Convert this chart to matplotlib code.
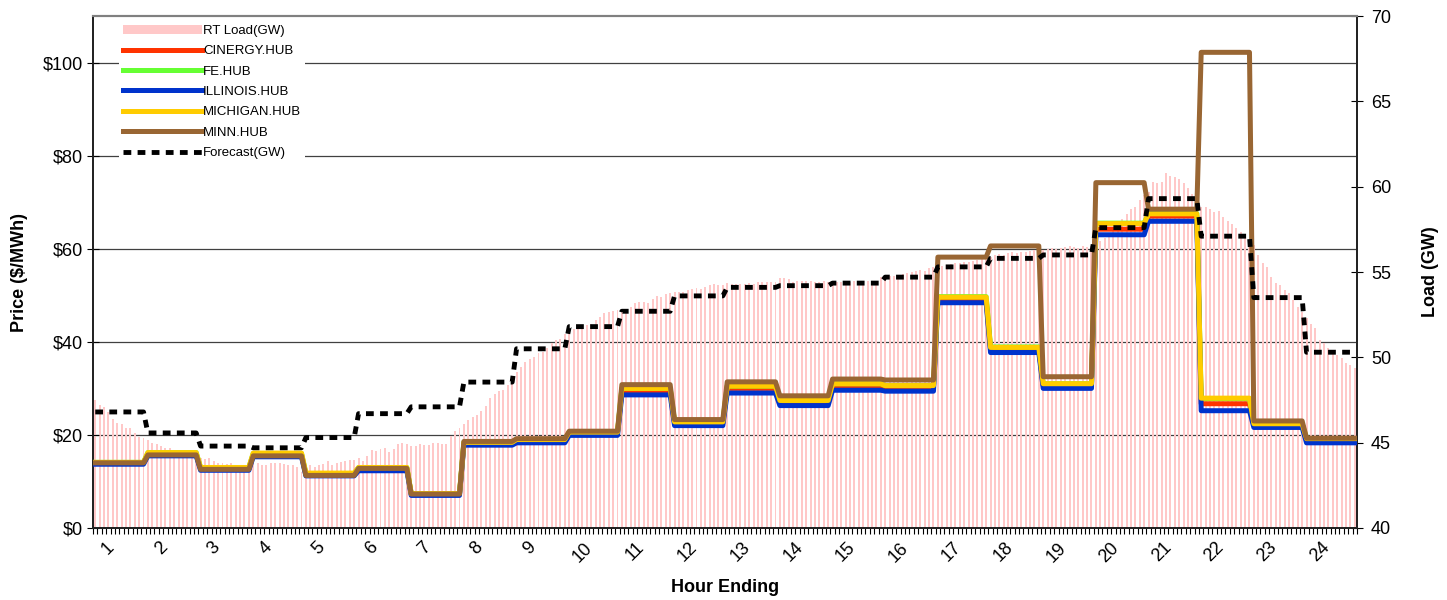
import numpy as np
import matplotlib.pyplot as plt
from matplotlib.transforms import blended_transform_factory
from matplotlib.ticker import FuncFormatter

plt.rcParams['font.family'] = ['Liberation Sans', 'DejaVu Sans']

# 5-minute real-time load (GW), 12 intervals per hour
load_gw = [
    47.5, 47.2, 47.07, 46.8, 46.37, 46.13, 46.1, 45.84, 45.88, 45.59, 45.35, 45.25,
    45.16, 45.0, 44.92, 44.8, 44.67, 44.67, 44.57, 44.51, 44.5, 44.45, 44.4, 44.4,
    44.08, 44.02, 44.12, 43.93, 43.83, 43.79, 43.75, 43.79, 43.69, 43.63, 43.6, 43.5,
    43.83, 43.79, 43.69, 43.69, 43.79, 43.83, 43.79, 43.75, 43.69, 43.69, 43.56, 43.3,
    43.35, 43.7, 43.6, 43.7, 43.75, 43.9, 43.7, 43.8, 43.85, 43.9, 44.0, 44.0,
    44.1, 43.9, 44.2, 44.57, 44.5, 44.6, 44.7, 44.47, 44.6, 44.9, 45.0, 44.9,
    44.8, 44.8, 44.9, 44.85, 44.85, 45.0, 45.0, 44.95, 44.9, 45.4, 45.7, 45.84,
    46.1, 46.33, 46.5, 46.6, 46.87, 47.15, 47.6, 47.85, 48.0, 48.1, 48.4, 48.48,
    49.16, 49.45, 49.74, 49.88, 50.04, 50.23, 50.33, 50.53, 50.86, 51.0, 51.1, 51.37,
    51.5, 51.64, 51.8, 51.7, 51.9, 51.95, 52.19, 52.38, 52.58, 52.64, 52.73, 52.8,
    52.67, 52.77, 52.97, 53.17, 53.22, 53.22, 53.17, 53.4, 53.6, 53.55, 53.7, 53.75,
    53.85, 53.8, 53.85, 53.95, 53.98, 54.04, 53.98, 54.14, 54.24, 54.3, 54.24, 54.24,
    54.34, 54.3, 54.3, 54.3, 54.3, 54.34, 54.3, 54.43, 54.4, 54.42, 54.43, 54.43,
    54.63, 54.63, 54.57, 54.43, 54.47, 54.5, 54.5, 54.47, 54.43, 54.42, 54.47, 54.4,
    54.4, 54.43, 54.42, 54.43, 54.43, 54.47, 54.28, 54.42, 54.47, 54.5, 54.43, 54.69,
    54.69, 54.76, 54.76, 54.82, 54.88, 54.96, 55.0, 55.08, 55.1, 55.08, 55.21, 55.3,
    55.3, 55.35, 55.4, 55.45, 55.5, 55.55, 55.6, 55.6, 55.65, 55.7, 55.75, 55.8,
    55.9, 56.0, 56.05, 56.0, 56.1, 56.15, 56.1, 56.2, 56.2, 56.25, 56.3, 56.3,
    56.3, 56.35, 56.4, 56.35, 56.4, 56.45, 56.5, 56.45, 56.4, 56.5, 56.45, 56.5,
    56.6, 56.8, 57.0, 57.3, 57.6, 57.9, 58.1, 58.4, 58.7, 58.8, 59.2, 59.5,
    59.7, 60.25, 60.23, 60.3, 60.78, 60.62, 60.58, 60.43, 60.2, 59.9, 59.6, 59.0,
    58.8, 58.8, 58.67, 58.53, 58.6, 58.2, 57.99, 57.8, 57.56, 57.36, 57.17, 56.87,
    56.6, 56.0, 55.55, 55.27, 54.73, 54.37, 54.24, 53.95, 53.75, 53.36, 52.97, 52.67,
    52.29, 51.95, 51.7, 51.0, 50.82, 50.53, 50.33, 50.14, 49.94, 49.65, 49.55, 49.36,
]

# hourly values
hours = list(range(1, 25))
forecast_gw = [46.8, 45.57, 44.8, 44.7, 45.3, 46.7, 47.1, 48.55, 50.5, 51.8, 52.7, 53.6,
               54.1, 54.2, 54.35, 54.7, 55.3, 55.8, 56.0, 57.6, 59.3, 57.1, 53.5, 50.3]
cinergy = [14.0, 15.9, 12.8, 15.8, 11.5, 12.8, 7.3, 18.2, 18.8, 20.4, 29.5, 22.5,
           30.0, 27.0, 30.6, 30.2, 49.0, 38.4, 30.6, 64.2, 67.0, 26.7, 22.1, 18.9]
fe = [14.1, 16.2, 13.0, 16.0, 11.7, 13.0, 7.4, 18.4, 19.0, 20.6, 30.0, 22.8,
      30.5, 27.4, 31.0, 30.6, 49.7, 38.9, 31.0, 65.5, 67.6, 27.8, 22.4, 19.2]
illinois = [13.7, 15.5, 12.4, 15.3, 11.2, 12.3, 7.0, 17.8, 18.3, 19.9, 28.6, 22.0,
            29.0, 26.3, 29.6, 29.4, 48.4, 37.7, 30.0, 63.0, 65.9, 25.2, 21.6, 18.3]
michigan = [14.1, 16.2, 13.0, 16.1, 11.8, 13.0, 7.4, 18.4, 19.0, 20.6, 30.0, 22.8,
            30.5, 27.4, 31.0, 30.6, 49.6, 38.8, 31.0, 65.4, 67.5, 27.9, 22.4, 19.2]
minn = [14.0, 15.7, 12.6, 15.5, 11.3, 12.8, 7.3, 18.6, 19.2, 20.8, 30.8, 23.3,
        31.4, 28.4, 32.0, 31.8, 58.2, 60.6, 32.5, 74.2, 68.5, 102.2, 23.0, 19.3]

steps = 12
x = np.arange(len(load_gw))

fig = plt.figure(figsize=(14.47, 6.0), dpi=100)
ax = fig.add_axes([0.0643, 0.12, 0.8735, 0.8533])
ax2 = ax.twinx()
ax.set_zorder(ax2.get_zorder() + 1)
ax.patch.set_visible(False)

# price gridlines sit under the load bars
grid_trans = blended_transform_factory(ax2.transAxes, ax.transData)
for v in [20, 40, 60, 80, 100]:
    ax2.plot([0, 1], [v, v], transform=grid_trans, color='#404040', lw=0.9, zorder=0)

bars = ax2.bar(x, load_gw, width=0.45, color='#FFC8C8', zorder=1, label='RT Load(GW)')

hubs = [
    ('CINERGY.HUB', cinergy, '#FF3300'),
    ('FE.HUB', fe, '#66FF33'),
    ('ILLINOIS.HUB', illinois, '#0033CC'),
    ('MICHIGAN.HUB', michigan, '#FFCC00'),
    ('MINN.HUB', minn, '#996633'),
]
handles = [bars]
for name, vals, col in hubs:
    ln, = ax.plot(x, np.repeat(vals, steps), color=col, lw=3.6, label=name, zorder=3)
    handles.append(ln)

# forecast uses the load scale but is drawn above the price lines
fc_trans = blended_transform_factory(ax.transData, ax2.transData)
fc, = ax.plot(x, np.repeat(forecast_gw, steps), transform=fc_trans, color='black',
              lw=3.5, ls=(0, (1.6, 1.3)), label='Forecast(GW)', zorder=5)
handles.append(fc)

ax.set_xlim(-0.5, len(load_gw) - 0.5)
ax.set_ylim(0, 110)
ax2.set_ylim(40, 70)

ax.set_yticks([0, 20, 40, 60, 80, 100])
ax.yaxis.set_major_formatter(FuncFormatter(lambda v, p: '${:.0f}'.format(v)))
ax2.set_yticks(range(40, 71, 5))

ax.set_xticks(np.arange(24) * steps + 3)
ax.set_xticklabels([str(h) for h in hours], rotation=45, ha='center')
ax.set_xticks(np.arange(-0.5, len(load_gw)), minor=True)
ax.tick_params(axis='x', which='major', length=0, labelsize=13, pad=8)
ax.tick_params(axis='x', which='minor', length=4, width=0.8, direction='out')
ax.tick_params(axis='y', direction='inout', length=8, labelsize=13)
ax2.tick_params(axis='y', direction='inout', length=8, labelsize=13, pad=6)

for a in (ax, ax2):
    for s in ['left', 'right', 'bottom']:
        a.spines[s].set_color('#222222')
        a.spines[s].set_linewidth(1.3)
    a.spines['top'].set_color('#808080')
    a.spines['top'].set_linewidth(1.5)

ax.set_ylabel('Price ($/MWh)', fontsize=13, fontweight='bold', labelpad=10)
ax2.set_ylabel('Load (GW)', fontsize=13, fontweight='bold', labelpad=22)
ax.set_xlabel('Hour Ending', fontsize=13, fontweight='bold', labelpad=10)

leg = ax.legend(handles, [h.get_label() for h in handles], loc='upper left',
                bbox_to_anchor=(0.015, 1.004), fontsize=9.5, frameon=True, fancybox=False,
                facecolor='white', edgecolor='none', framealpha=1,
                handlelength=6.0, handletextpad=0.1, labelspacing=0.62, borderpad=0.3)
leg.set_zorder(10)

fig.savefig('out.png', dpi=100)
